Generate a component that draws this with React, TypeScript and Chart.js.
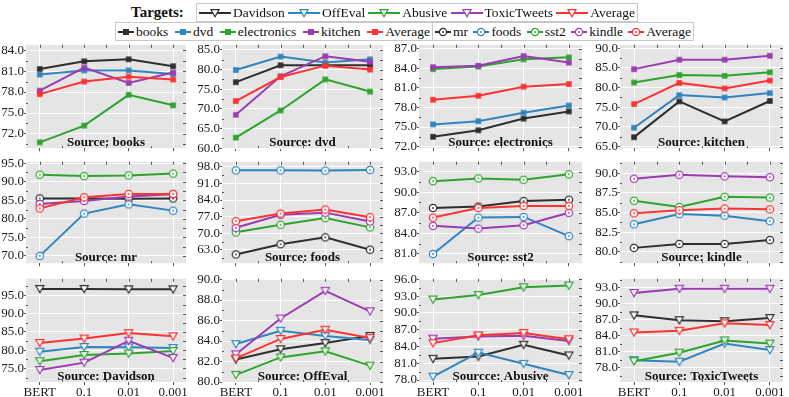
import React, { useEffect, useRef } from "react";
import { Chart, registerables } from "chart.js";
Chart.register(...registerables);

const FONT = "'Liberation Serif', 'Times New Roman', serif";

// ---------- categories / names ----------
const xLabels = ["BERT", "0.1", "0.01", "0.001"];
const xPositions = [0, 1, 2, 3];
const targetNames = ["Davidson", "OffEval", "Abusive", "ToxicTweets", "Average"];
const amazonNames = ["books", "dvd", "electronics", "kitchen", "Average"];
const sentimentNames = ["mr", "foods", "sst2", "kindle", "Average"];
const seriesColors = ["#2e2e2e", "#3185bf", "#2ea42e", "#9a3cb2", "#fb3333"];

// ---------- Source: books ----------
const booksBooks = [81.3, 82.4, 82.7, 81.7];
const booksDvd = [80.5, 81.1, 81.1, 80.6];
const booksElectronics = [70.8, 73.2, 77.6, 76.1];
const booksKitchen = [78.2, 81.5, 79.3, 80.8];
const booksAverage = [77.7, 79.5, 80.2, 79.8];
// ---------- Source: dvd ----------
const dvdBooks = [76.8, 81.1, 81.1, 81.1];
const dvdDvd = [79.9, 83.3, 81.8, 82.6];
const dvdElectronics = [62.7, 69.6, 77.5, 74.4];
const dvdKitchen = [68.5, 78.3, 83.4, 82.0];
const dvdAverage = [72.0, 78.1, 81.0, 80.0];
// ---------- Source: electronics ----------
const elecBooks = [73.5, 74.5, 76.3, 77.4];
const elecDvd = [75.4, 75.9, 77.2, 78.3];
const elecElectronics = [83.9, 84.3, 85.4, 85.7];
const elecKitchen = [84.2, 84.4, 85.9, 84.9];
const elecAverage = [79.2, 79.8, 81.2, 81.6];
// ---------- Source: kitchen ----------
const kitBooks = [67.4, 76.5, 71.4, 76.6];
const kitDvd = [69.8, 78.1, 77.5, 78.6];
const kitElectronics = [81.3, 83.2, 83.0, 83.9];
const kitKitchen = [84.7, 87.1, 87.1, 88.1];
const kitAverage = [75.8, 81.2, 79.8, 81.8];
// ---------- Source: mr ----------
const mrMr = [85.5, 85.5, 85.4, 85.5];
const mrFoods = [70.0, 81.4, 83.9, 82.2];
const mrSst2 = [91.9, 91.5, 91.7, 92.2];
const mrKindle = [84.0, 84.8, 86.0, 86.6];
const mrAverage = [82.8, 85.8, 86.7, 86.7];
// ---------- Source: foods ----------
const foodsMr = [61.1, 65.4, 68.3, 63.1];
const foodsFoods = [96.5, 96.5, 96.4, 96.7];
const foodsSst2 = [70.4, 73.6, 76.4, 72.5];
const foodsKindle = [72.3, 77.8, 78.7, 75.0];
const foodsAverage = [75.1, 78.3, 80.0, 76.8];
// ---------- Source: sst2 ----------
const sstMr = [87.7, 87.9, 88.7, 88.9];
const sstFoods = [81.0, 86.3, 86.4, 83.6];
const sstSst2 = [91.6, 92.0, 91.8, 92.6];
const sstKindle = [85.1, 84.7, 85.2, 87.0];
const sstAverage = [86.3, 87.7, 88.0, 88.0];
// ---------- Source: kindle ----------
const kindleMr = [80.5, 81.0, 81.0, 81.5];
const kindleFoods = [83.5, 84.8, 84.6, 83.9];
const kindleSst2 = [86.5, 85.7, 87.0, 86.9];
const kindleKindle = [89.3, 89.8, 89.6, 89.5];
const kindleAverage = [84.9, 85.3, 85.5, 85.4];
// ---------- Source: Davidson ----------
const davDavidson = [96.8, 96.8, 96.7, 96.7];
const davOffEval = [79.6, 80.9, 80.8, 80.6];
const davAbusive = [77.0, 78.7, 79.1, 79.8];
const davToxic = [74.6, 76.6, 82.6, 77.9];
const davAverage = [82.0, 83.2, 84.7, 83.8];
// ---------- Source: OffEval ----------
const offDavidson = [82.2, 83.2, 83.8, 84.5];
const offOffEval = [83.7, 85.0, 84.5, 84.1];
const offAbusive = [80.7, 82.4, 83.0, 81.6];
const offToxic = [82.7, 86.2, 88.9, 86.9];
const offAverage = [82.3, 84.2, 85.1, 84.3];
// ---------- Source: Abusive ----------
const abuDavidson = [81.8, 82.2, 84.3, 82.4];
const abuOffEval = [78.6, 82.9, 80.9, 78.9];
const abuAbusive = [92.4, 93.2, 94.6, 94.9];
const abuToxic = [85.4, 85.8, 85.9, 85.0];
const abuAverage = [84.6, 86.0, 86.4, 85.3];
// ---------- Source: ToxicTweets ----------
const toxDavidson = [87.8, 86.9, 86.7, 87.3];
const toxOffEval = [79.4, 79.1, 82.5, 81.3];
const toxAbusive = [79.2, 80.8, 83.1, 82.5];
const toxToxic = [92.0, 92.8, 92.8, 92.8];
const toxAverage = [84.6, 84.9, 86.3, 86.0];

// ---------- y tick labels ----------
const booksTicks = [72, 75, 78, 81, 84];
const dvdTicks = [60, 65, 70, 75, 80, 85];
const elecTicks = [72, 75, 78, 81, 84, 87];
const kitTicks = [65, 70, 75, 80, 85, 90];
const mrTicks = [70, 75, 80, 85, 90, 95];
const foodsTicks = [63, 70, 77, 84, 91, 98];
const sstTicks = [81, 84, 87, 90, 93];
const kindleTicks = [80, 82.5, 85, 87.5, 90];
const davTicks = [75, 80, 85, 90, 95];
const offTicks = [80, 82, 84, 86, 88, 90];
const abuTicks = [78, 81, 84, 87, 90, 93, 96];
const toxTicks = [78, 81, 84, 87, 90, 93];

type PanelDef = {
  title: string;
  names: string[];
  series: number[][];
  yTicks: number[];
  yMin: number;
  yMax: number;
  marker: "square" | "circle" | "triangle";
  row: number;
  col: number;
};

const panels: PanelDef[] = [
  { title: "Source: books", names: amazonNames, series: [booksBooks, booksDvd, booksElectronics, booksKitchen, booksAverage], yTicks: booksTicks, yMin: 69.96, yMax: 84.77, marker: "square", row: 0, col: 0 },
  { title: "Source: dvd", names: amazonNames, series: [dvdBooks, dvdDvd, dvdElectronics, dvdKitchen, dvdAverage], yTicks: dvdTicks, yMin: 60.0, yMax: 86.3, marker: "square", row: 0, col: 1 },
  { title: "Source: electronics", names: amazonNames, series: [elecBooks, elecDvd, elecElectronics, elecKitchen, elecAverage], yTicks: elecTicks, yMin: 71.75, yMax: 87.63, marker: "square", row: 0, col: 2 },
  { title: "Source: kitchen", names: amazonNames, series: [kitBooks, kitDvd, kitElectronics, kitKitchen, kitAverage], yTicks: kitTicks, yMin: 64.59, yMax: 90.89, marker: "square", row: 0, col: 3 },
  { title: "Source: mr", names: sentimentNames, series: [mrMr, mrFoods, mrSst2, mrKindle, mrAverage], yTicks: mrTicks, yMin: 68.03, yMax: 95.36, marker: "circle", row: 1, col: 0 },
  { title: "Source: foods", names: sentimentNames, series: [foodsMr, foodsFoods, foodsSst2, foodsKindle, foodsAverage], yTicks: foodsTicks, yMin: 57.41, yMax: 100.1, marker: "circle", row: 1, col: 1 },
  { title: "Source: sst2", names: sentimentNames, series: [sstMr, sstFoods, sstSst2, sstKindle, sstAverage], yTicks: sstTicks, yMin: 79.66, yMax: 94.42, marker: "circle", row: 1, col: 2 },
  { title: "Source: kindle", names: sentimentNames, series: [kindleMr, kindleFoods, kindleSst2, kindleKindle, kindleAverage], yTicks: kindleTicks, yMin: 78.55, yMax: 91.45, marker: "circle", row: 1, col: 3 },
  { title: "Source: Davidson", names: targetNames, series: [davDavidson, davOffEval, davAbusive, davToxic, davAverage], yTicks: davTicks, yMin: 71.3, yMax: 99.57, marker: "triangle", row: 2, col: 0 },
  { title: "Source: OffEval", names: targetNames, series: [offDavidson, offOffEval, offAbusive, offToxic, offAverage], yTicks: offTicks, yMin: 80.0, yMax: 90.07, marker: "triangle", row: 2, col: 1 },
  { title: "Sourcce: Abusive", names: targetNames, series: [abuDavidson, abuOffEval, abuAbusive, abuToxic, abuAverage], yTicks: abuTicks, yMin: 77.65, yMax: 96.1, marker: "triangle", row: 2, col: 2 },
  { title: "Source: ToxicTweets", names: targetNames, series: [toxDavidson, toxOffEval, toxAbusive, toxToxic, toxAverage], yTicks: toxTicks, yMin: 75.3, yMax: 94.66, marker: "triangle", row: 2, col: 3 },
];

// ---------- layout ----------
const colLeft = [26, 222, 419, 620];
const colWidth = [160, 161, 163, 163];
const rowTop = [43, 160, 277];
const rowBottom = [152, 267, 382];
const Y_AXIS_W = 40;
const PAD_TOP = 6;
const PAD_RIGHT = 6;
const PAD_BOTTOM = 4;
const X_MIN = -0.31;
const X_MAX = 3.29;

function makeMarker(kind: string, color: string): HTMLCanvasElement {
  const c = document.createElement("canvas");
  const size = 12;
  c.width = size;
  c.height = size;
  const g = c.getContext("2d")!;
  const m = size / 2;
  if (kind === "square") {
    g.fillStyle = color;
    g.fillRect(m - 2.8, m - 2.8, 5.6, 5.6);
  } else if (kind === "circle") {
    g.beginPath();
    g.arc(m, m, 3.7, 0, Math.PI * 2);
    g.fillStyle = "#ffffff";
    g.fill();
    g.lineWidth = 1.2;
    g.strokeStyle = color;
    g.stroke();
    g.beginPath();
    g.arc(m, m, 0.9, 0, Math.PI * 2);
    g.fillStyle = color;
    g.fill();
  } else {
    g.beginPath();
    g.moveTo(m - 4, m - 3.3);
    g.lineTo(m + 4, m - 3.3);
    g.lineTo(m, m + 3.7);
    g.closePath();
    g.fillStyle = "#ffffff";
    g.fill();
    g.lineWidth = 1.2;
    g.strokeStyle = color;
    g.stroke();
  }
  return c;
}

function minorValues(major: number[], lo: number, hi: number): number[] {
  const out: number[] = [];
  const step = major.length > 1 ? major[1] - major[0] : 1;
  const all = [major[0] - step, ...major, major[major.length - 1] + step];
  for (let i = 0; i < all.length - 1; i++) {
    const v = (all[i] + all[i + 1]) / 2;
    if (v >= lo && v <= hi) out.push(v);
  }
  return out;
}

function Panel({ def }: { def: PanelDef }) {
  const ref = useRef<HTMLCanvasElement>(null);
  const isBottom = def.row === 2;
  const xAxisH = isBottom ? 16 : 0;
  const plotH = rowBottom[def.row] - rowTop[def.row];
  const w = Y_AXIS_W + colWidth[def.col] + PAD_RIGHT;
  const h = PAD_TOP + plotH + xAxisH + PAD_BOTTOM;
  const left = colLeft[def.col] - Y_AXIS_W;
  const top = rowTop[def.row] - PAD_TOP;

  useEffect(() => {
    const canvas = ref.current!;
    const datasets = def.series.map((vals, i) => ({
      label: def.names[i],
      data: xPositions.map((x, j) => ({ x, y: vals[j] })),
      borderColor: seriesColors[i],
      backgroundColor: seriesColors[i],
      borderWidth: 2,
      pointStyle: makeMarker(def.marker, seriesColors[i]) as any,
      pointRadius: 4,
      tension: 0,
      order: 4 - i,
    }));
    const yMinor = minorValues(def.yTicks, def.yMin, def.yMax);
    const xMinor = [0.5, 1.5, 2.5];
    const deco = {
      id: "deco",
      beforeDraw(chart: any) {
        const { ctx, chartArea: a } = chart;
        ctx.save();
        ctx.fillStyle = "#e5e5e5";
        ctx.fillRect(a.left, a.top, a.right - a.left, a.bottom - a.top);
        ctx.restore();
      },
      afterDraw(chart: any) {
        const { ctx, chartArea: a, scales } = chart;
        const ys = scales.y;
        const xs = scales.x;
        ctx.save();
        ctx.strokeStyle = "#555555";
        ctx.lineWidth = 1;
        ctx.beginPath();
        [...def.yTicks, ...yMinor].forEach((v) => {
          const py = Math.round(ys.getPixelForValue(v)) + 0.5;
          ctx.moveTo(a.right, py);
          ctx.lineTo(a.right - 3, py);
        });
        yMinor.forEach((v) => {
          const py = Math.round(ys.getPixelForValue(v)) + 0.5;
          ctx.moveTo(a.left, py);
          ctx.lineTo(a.left + 2, py);
        });
        [...xPositions, ...xMinor].forEach((v) => {
          const px = Math.round(xs.getPixelForValue(v)) + 0.5;
          ctx.moveTo(px, a.top);
          ctx.lineTo(px, a.top + 3);
        });
        xMinor.forEach((v) => {
          const px = Math.round(xs.getPixelForValue(v)) + 0.5;
          ctx.moveTo(px, a.bottom);
          ctx.lineTo(px, a.bottom - 2);
        });
        ctx.stroke();
        ctx.font = `bold 13px ${FONT}`;
        ctx.fillStyle = "#111111";
        ctx.textAlign = "center";
        ctx.textBaseline = "alphabetic";
        ctx.fillText(def.title, (a.left + a.right) / 2, a.bottom - 2.5);
        ctx.restore();
      },
    };
    const chart = new Chart(canvas, {
      type: "line",
      data: { datasets: datasets as any },
      options: {
        responsive: false,
        animation: false,
        devicePixelRatio: 1,
        events: [],
        layout: { padding: { left: 0, top: PAD_TOP, right: PAD_RIGHT, bottom: PAD_BOTTOM } },
        plugins: { legend: { display: false }, tooltip: { enabled: false }, title: { display: false } },
        scales: {
          x: {
            type: "linear",
            min: X_MIN,
            max: X_MAX,
            afterBuildTicks: (s: any) => {
              s.ticks = xPositions.map((v) => ({ value: v }));
            },
            afterFit: (s: any) => {
              s.height = xAxisH;
            },
            ticks: {
              display: isBottom,
              autoSkip: false,
              maxRotation: 0,
              padding: 0,
              color: "#1a1a1a",
              font: { family: FONT, size: 13 },
              callback: (v: any) => xLabels[Math.round(Number(v))] ?? "",
            },
            grid: { color: "#ffffff", lineWidth: 1, tickColor: "#555555", tickLength: 3, drawTicks: true },
            border: { display: false },
          },
          y: {
            type: "linear",
            min: def.yMin,
            max: def.yMax,
            afterBuildTicks: (s: any) => {
              s.ticks = def.yTicks.map((v) => ({ value: v }));
            },
            afterFit: (s: any) => {
              s.width = Y_AXIS_W;
            },
            ticks: {
              autoSkip: false,
              padding: 0,
              color: "#1a1a1a",
              font: { family: FONT, size: 13 },
              callback: (v: any) => Number(v).toFixed(1),
            },
            grid: { color: "#ffffff", lineWidth: 1, tickColor: "#555555", tickLength: 2, drawTicks: true },
            border: { display: false },
          },
        },
      },
      plugins: [deco as any],
    });
    return () => chart.destroy();
  }, []);

  return (
    <canvas
      ref={ref}
      width={w}
      height={h}
      style={{ position: "absolute", left, top, width: w, height: h }}
    />
  );
}

function LegendHandle({ kind, color, width }: { kind: string; color: string; width: number }) {
  const m = width / 2;
  const cy = 7;
  let marker: React.ReactNode = null;
  if (kind === "square") {
    marker = <rect x={m - 3} y={cy - 3} width={6} height={6} fill={color} />;
  } else if (kind === "circle") {
    marker = (
      <g>
        <circle cx={m} cy={cy} r={3.6} fill="#fff" stroke={color} strokeWidth={1.2} />
        <circle cx={m} cy={cy} r={0.9} fill={color} />
      </g>
    );
  } else {
    marker = (
      <polygon
        points={`${m - 4},${cy - 3.3} ${m + 4},${cy - 3.3} ${m},${cy + 3.7}`}
        fill="#fff"
        stroke={color}
        strokeWidth={1.2}
      />
    );
  }
  return (
    <svg width={width} height={14} style={{ display: "block" }}>
      <line x1={0} y1={cy} x2={width} y2={cy} stroke={color} strokeWidth={2} />
      {marker}
    </svg>
  );
}

function LegendBox({
  names,
  kind,
  left,
  top,
  width,
  handleW,
}: {
  names: string[];
  kind: string;
  left: number;
  top: number;
  width: number;
  handleW: number;
}) {
  return (
    <div
      style={{
        position: "absolute",
        left,
        top,
        width,
        height: 19,
        boxSizing: "border-box",
        border: "1px solid #c8c8c8",
        background: "#fff",
        display: "flex",
        alignItems: "center",
        justifyContent: "space-between",
        padding: "0 2px",
        fontFamily: FONT,
        fontSize: 13.5,
        color: "#111",
        whiteSpace: "nowrap",
      }}
    >
      {names.map((n, i) => (
        <div key={n + i} style={{ display: "flex", alignItems: "center" }}>
          <LegendHandle kind={kind} color={seriesColors[i]} width={handleW} />
          <span style={{ marginLeft: 2, lineHeight: "17px" }}>{n}</span>
        </div>
      ))}
    </div>
  );
}

export default function App() {
  return (
    <div
      style={{
        position: "absolute",
        left: 0,
        top: 0,
        width: 789,
        height: 397,
        background: "#ffffff",
        overflow: "hidden",
      }}
    >
      {panels.map((p) => (
        <Panel key={p.title} def={p} />
      ))}
      <div
        style={{
          position: "absolute",
          left: 131,
          top: 2,
          fontFamily: FONT,
          fontWeight: "bold",
          fontSize: 15,
          lineHeight: "20px",
          color: "#111",
        }}
      >
        Targets:
      </div>
      <LegendBox names={targetNames} kind="triangle" left={196} top={3} width={442} handleW={32} />
      <LegendBox names={amazonNames} kind="square" left={115} top={22} width={318} handleW={16} />
      <LegendBox names={sentimentNames} kind="circle" left={432} top={22} width={262} handleW={16} />
    </div>
  );
}
